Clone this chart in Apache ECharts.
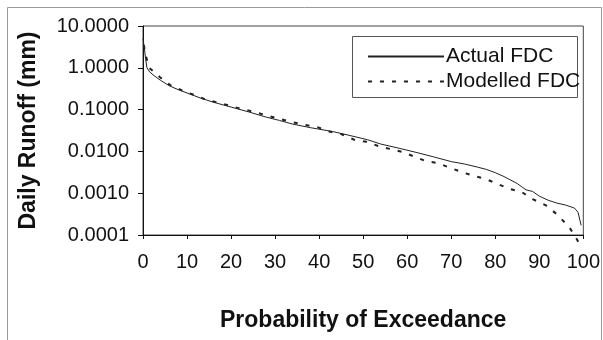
<!DOCTYPE html>
<html>
<head>
<meta charset="utf-8">
<script src="https://cdn.jsdelivr.net/npm/echarts@6/dist/echarts.min.js"></script>
<style>
  html, body { margin: 0; padding: 0; background: #fff; }
  #chart { width: 603px; height: 340px; }
</style>
</head>
<body>
<div id="chart"></div>
<script>
// Data
const actualProb = [0, 0.3, 0.6, 0.9, 1.5, 2.5, 4, 6, 8, 10, 13, 16, 20, 24, 28, 31, 34, 38, 43, 47, 51, 54, 58, 62, 66, 70, 73, 76, 78, 80, 82, 85, 87, 88.5, 90, 92, 94, 96, 98, 98.8, 99.5];
const actualRunoff = [5.0, 3.0, 1.6, 1.0, 0.8, 0.65, 0.5, 0.37, 0.30, 0.25, 0.19, 0.15, 0.115, 0.088, 0.066, 0.055, 0.045, 0.037, 0.030, 0.024, 0.019, 0.015, 0.012, 0.0095, 0.0074, 0.0057, 0.005, 0.0042, 0.0037, 0.0031, 0.0025, 0.0017, 0.0012, 0.0011, 0.00085, 0.00068, 0.00058, 0.00052, 0.00044, 0.00035, 0.00017];

const modelProb = [0.2, 0.5, 1.4, 3.8, 6.1, 9.1, 11.8, 14.5, 17.4, 20.1, 23, 25.8, 28.3, 31.5, 34, 36.9, 39.6, 42.3, 45, 48, 50.7, 53.4, 56, 58.8, 61.8, 64.3, 66.8, 69.9, 72.4, 75.1, 77.8, 80.3, 83.3, 86, 88.5, 91.4, 93.9, 96.8, 98.5, 99.6];
const modelRunoff = [3.5, 2.2, 1.0, 0.6, 0.39, 0.28, 0.22, 0.17, 0.145, 0.12, 0.10, 0.085, 0.071, 0.058, 0.05, 0.043, 0.038, 0.030, 0.026, 0.019, 0.017, 0.0135, 0.0115, 0.0098, 0.0074, 0.0058, 0.0053, 0.0040, 0.0032, 0.0026, 0.0022, 0.0017, 0.00126, 0.00107, 0.00072, 0.00052, 0.00032, 0.000155, 0.00008, 0.00005];

const seriesNames = ['Actual FDC', 'Modelled FDC'];
const xTitle = 'Probability of Exceedance';
const yTitle = 'Daily Runoff (mm)';

var chartDom = document.getElementById('chart');
var myChart = echarts.init(chartDom);
var font = '"Liberation Sans", Arial, sans-serif';

var option = {
  backgroundColor: '#fff',
  animation: false,
  grid: {
    left: 143, right: 19, top: 26, bottom: 105,
    show: true, borderColor: '#444', borderWidth: 1
  },
  legend: {
    orient: 'vertical',
    left: 362, top: 41,
    itemWidth: 76, itemHeight: 14, itemGap: 4,
    itemStyle: { opacity: 0 },
    textStyle: { fontFamily: font, fontSize: 21, color: '#111', lineHeight: 21, padding: [0, 0, 0, -3] },
    data: seriesNames
  },
  xAxis: {
    type: 'value', min: 0, max: 100, interval: 10,
    name: xTitle, nameLocation: 'middle', nameGap: 74,
    nameTextStyle: { fontFamily: font, fontSize: 23, fontWeight: 'bold', color: '#111' },
    axisLine: { lineStyle: { color: '#111', width: 1 } },
    axisTick: { show: true, length: 4, lineStyle: { color: '#111' } },
    axisLabel: { margin: 17, fontFamily: font, fontSize: 20, color: '#111' },
    splitLine: { show: false }
  },
  yAxis: {
    type: 'log', logBase: 10, min: 0.0001, max: 10,
    name: yTitle, nameLocation: 'middle', nameGap: 103,
    nameTextStyle: { fontFamily: font, fontSize: 23, fontWeight: 'bold', color: '#111' },
    axisLine: { show: true, lineStyle: { color: '#111', width: 1 } },
    axisTick: { show: true, length: 5, lineStyle: { color: '#111' } },
    axisLabel: {
      margin: 14, fontFamily: font, fontSize: 20, color: '#111',
      formatter: (v) => Number(v).toFixed(4)
    },
    splitLine: { show: false }
  },
  graphic: [
    {
      type: 'rect',
      shape: { x: 7.5, y: 7.5, width: 594, height: 340 },
      style: { fill: 'none', stroke: '#999', lineWidth: 1 },
      silent: true
    },
    {
      type: 'rect',
      shape: { x: 352.5, y: 36.5, width: 225, height: 61 },
      style: { fill: 'none', stroke: '#555', lineWidth: 1 },
      silent: true
    }
  ],
  series: [
    {
      name: seriesNames[0],
      type: 'line',
      symbol: 'none',
      lineStyle: { color: '#222', width: 1 },
      itemStyle: { color: '#222' },
      data: actualProb.map((p, i) => [p, actualRunoff[i]])
    },
    {
      name: seriesNames[1],
      type: 'line',
      symbol: 'none',
      clip: false,
      lineStyle: { color: '#222', width: 2, type: [4, 8] },
      itemStyle: { color: '#222' },
      data: modelProb.map((p, i) => [p, modelRunoff[i]])
    }
  ]
};

option && myChart.setOption(option);
</script>
</body>
</html>
